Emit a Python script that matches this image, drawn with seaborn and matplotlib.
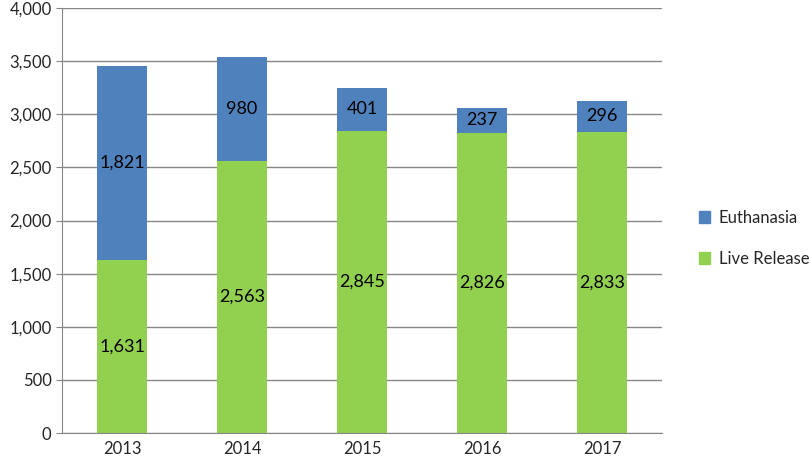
import matplotlib
matplotlib.use("Agg")
import matplotlib.pyplot as plt
import seaborn as sns
import pandas as pd
from matplotlib.patches import Patch

years = ["2013", "2014", "2015", "2016", "2017"]
live_release = [1631, 2563, 2845, 2826, 2833]
euthanasia = [1821, 980, 401, 237, 296]
yticks = [0, 500, 1000, 1500, 2000, 2500, 3000, 3500, 4000]

green = "#92D050"
blue = "#4F81BD"

sns.set_style("white")
plt.rcParams['font.family'] = ['Lato', 'DejaVu Sans']

df = pd.DataFrame({"year": years, "live": live_release, "euth": euthanasia})
df["total"] = df["live"] + df["euth"]

fig = plt.figure(figsize=(8.09, 4.67), dpi=100)
ax = fig.add_axes([0.0766, 0.0728, 0.7417, 0.910])
ax.set_axisbelow(True)
ax.yaxis.grid(True, color="#878787", linewidth=1)

sns.barplot(data=df, x="year", y="total", color=blue, width=0.41, ax=ax, saturation=1, linewidth=0)
sns.barplot(data=df, x="year", y="live", color=green, width=0.41, ax=ax, saturation=1, linewidth=0)

for i, (l, e) in enumerate(zip(live_release, euthanasia)):
    ax.text(i, l / 2, f"{l:,}", ha="center", va="center", fontsize=13, color="black")
    ax.text(i, l + e / 2, f"{e:,}", ha="center", va="center", fontsize=13, color="black")

ax.set_ylim(0, 4000)
ax.set_yticks(yticks)
ax.set_yticklabels([f"{v:,}" for v in yticks], fontsize=12)
ax.tick_params(axis="x", labelsize=12, length=0, pad=6)
ax.tick_params(axis="y", length=4, color="#878787", left=True)
ax.set_xlabel("")
ax.set_ylabel("")
for s in ["top", "right"]:
    ax.spines[s].set_visible(False)
for s in ["left", "bottom"]:
    ax.spines[s].set_color("#878787")

handles = [Patch(color=blue, label="Euthanasia"), Patch(color=green, label="Live Release")]
fig.legend(handles=handles, loc="center left", bbox_to_anchor=(0.845, 0.49),
           frameon=False, fontsize=12, handlelength=0.7, handleheight=0.7,
           handletextpad=0.5, labelspacing=1.5)

fig.savefig("out.png", dpi=100)
